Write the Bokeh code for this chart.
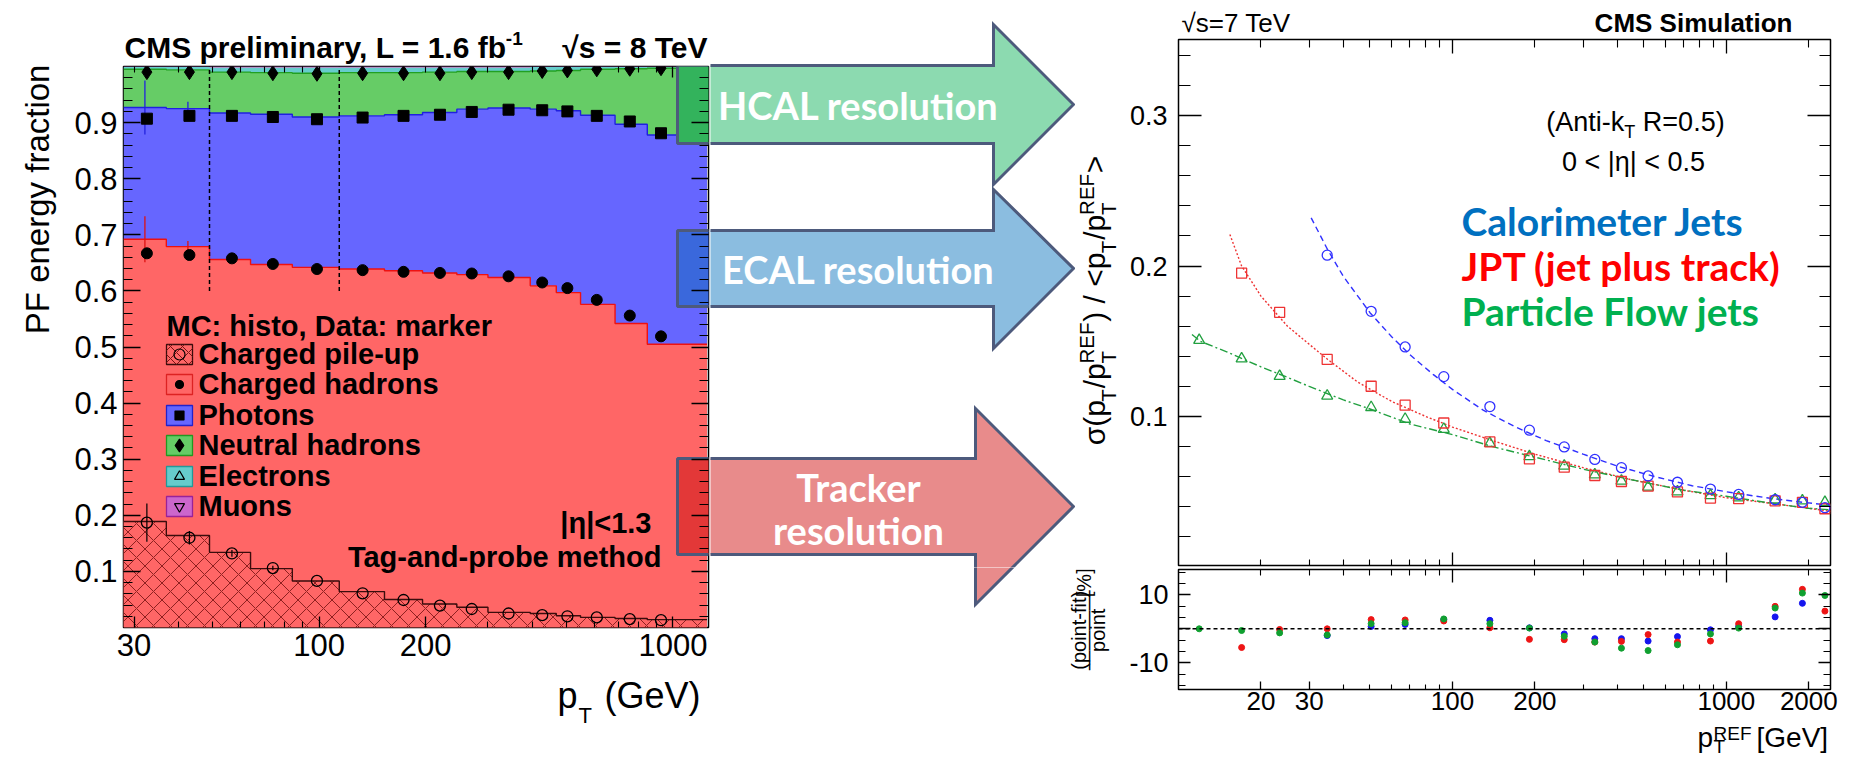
import math
from bokeh.plotting import figure
from bokeh.models import (Range1d, LinearAxis, LogAxis, FixedTicker, Label,
                          PrintfTickFormatter, LinearScale, Span)
from bokeh.layouts import row, column
from bokeh.embed import file_html
from bokeh.resources import INLINE

# ====================== DATA ======================
# Left panel: PF energy fraction vs jet pT (CMS preliminary, 8 TeV, |eta|<1.3)
pt_edges = [28, 37, 49, 64, 84, 114, 153, 196, 245, 300, 395, 468, 548, 686, 846, 1248]
# MC histograms, cumulative stack tops
mc_pileup = [0.189, 0.164, 0.134, 0.105, 0.083, 0.064, 0.050, 0.042, 0.036, 0.027, 0.025, 0.021, 0.018, 0.016, 0.014]
mc_charged = [0.692, 0.679, 0.656, 0.647, 0.642, 0.639, 0.636, 0.632, 0.629, 0.624, 0.609, 0.597, 0.576, 0.542, 0.505]
mc_photons = [0.927, 0.925, 0.917, 0.915, 0.910, 0.912, 0.914, 0.918, 0.924, 0.926, 0.924, 0.921, 0.913, 0.897, 0.878]
mc_neutral = [0.995, 0.994, 0.990, 0.989, 0.988, 0.989, 0.989, 0.990, 0.991, 0.991, 0.992, 0.993, 0.995, 0.996, 0.997]
mc_electrons = [0.999, 0.999, 0.998, 0.998, 0.998, 0.998, 0.998, 0.998, 0.998, 0.998, 0.999, 0.999, 0.999, 0.999, 0.999]
mc_muons = [1.000, 1.000, 1.000, 1.000, 1.000, 1.000, 1.000, 1.000, 1.000, 1.000, 1.000, 1.000, 1.000, 1.000, 1.000]
mc_charged_err = [0.041, 0.010, 0, 0, 0, 0, 0, 0, 0, 0, 0, 0, 0, 0, 0]
mc_photons_err = [0.048, 0.012, 0, 0, 0, 0, 0, 0, 0, 0, 0, 0, 0, 0, 0]
# Data markers
data_pt = [32.6, 43.0, 56.7, 74.0, 98.6, 132.7, 173.2, 219.5, 270, 343, 427, 503, 609, 755, 925]
data_pileup = [0.187, 0.160, 0.132, 0.106, 0.083, 0.061, 0.049, 0.039, 0.033, 0.025, 0.022, 0.020, 0.018, 0.015, 0.013]
data_pileup_err = [0.034, 0.012, 0.006, 0.004, 0, 0, 0, 0, 0, 0, 0, 0, 0, 0, 0]
data_charged = [0.667, 0.664, 0.658, 0.648, 0.639, 0.637, 0.634, 0.632, 0.631, 0.626, 0.615, 0.605, 0.584, 0.556, 0.519]
data_photons = [0.907, 0.912, 0.912, 0.910, 0.906, 0.909, 0.912, 0.914, 0.919, 0.923, 0.922, 0.920, 0.912, 0.902, 0.881]
data_neutral = [0.990, 0.990, 0.990, 0.988, 0.987, 0.988, 0.988, 0.988, 0.990, 0.990, 0.992, 0.993, 0.995, 0.996, 0.997]
threshold_pt = [49, 114]
threshold_lo = [0.6, 0.6]
threshold_hi = [1.0, 1.0]
left_xticks = [30, 100, 200, 1000]
left_xminor = [40, 50, 60, 70, 80, 90, 300, 400, 500, 600, 700, 800, 900]
left_yticks = [0.1, 0.2, 0.3, 0.4, 0.5, 0.6, 0.7, 0.8, 0.9]
legend_entries = ["Charged pile-up", "Charged hadrons", "Photons", "Neutral hadrons", "Electrons", "Muons"]

# Right panel: jet pT resolution vs pT^REF (CMS Simulation, 7 TeV)
ref_pt = [11.9, 17.0, 23.4, 34.9, 50.5, 67.2, 93, 137, 191, 256, 331, 414, 518, 663, 875, 1109, 1507, 1895, 2290]
pf_sigma = [0.1507, 0.1384, 0.1268, 0.1137, 0.1061, 0.0983, 0.0916, 0.0822, 0.0734, 0.0672, 0.0613,
            0.0572, 0.0532, 0.0501, 0.0475, 0.0461, 0.0447, 0.0440, 0.0430]
jpt_sigma = [0.1953, 0.1692, 0.1379, 0.1201, 0.1075, 0.0957, 0.0831, 0.0719, 0.0663, 0.0608,
             0.0568, 0.0537, 0.0499, 0.0458, 0.0454, 0.0440, 0.0430, 0.0387]
calo_sigma = [0.2072, 0.1699, 0.1462, 0.1265, 0.1066, 0.0909, 0.0798, 0.0715, 0.0660, 0.0605,
              0.0563, 0.0518, 0.0482, 0.0447, 0.0430, 0.0394]
calo_fit_pt = [30.5, 35, 40, 50, 60, 70, 85, 100, 130, 170, 220, 300, 400, 550, 750, 1000, 1400, 1900, 2400]
calo_fit = [0.232, 0.211, 0.193, 0.169, 0.153, 0.141, 0.128, 0.118, 0.104, 0.093, 0.084, 0.075, 0.067,
            0.060, 0.054, 0.050, 0.046, 0.043, 0.041]
jpt_fit_pt = [15.4, 17, 20, 25, 30, 35, 45, 60, 80, 100, 140, 200, 300, 450, 700, 1000, 1500, 2000, 2400]
jpt_fit = [0.221, 0.200, 0.180, 0.160, 0.148, 0.138, 0.123, 0.110, 0.100, 0.093, 0.084, 0.075, 0.066,
           0.058, 0.051, 0.046, 0.042, 0.039, 0.037]
pf_fit_pt = [11.2, 12, 15, 20, 25, 30, 40, 50, 70, 100, 140, 200, 300, 450, 700, 1000, 1500, 2000, 2400]
pf_fit = [0.1545, 0.150, 0.143, 0.133, 0.126, 0.120, 0.111, 0.105, 0.095, 0.088, 0.080, 0.073, 0.065,
          0.058, 0.051, 0.047, 0.042, 0.039, 0.038]
pf_resid = [0, -0.5, -1.2, -1.8, 1.5, 1.8, 2.9, 1.5, 0.2, -2.2, -3.9, -5.7, -6.4, -4.7, -1.5, 0.2, 6.1, 10.5, 9.8]
jpt_resid = [-5.5, -0.2, 0, 2.7, 2.6, 2.3, 0.3, -3.1, -3.2, -3.9, -3.7, -1.7, -3.9, -3.6, 1.5, 6.6, 11.6, 5.2]
calo_resid = [-2.0, 0.7, 1.3, 2.7, 2.5, 0.3, -1.5, -2.9, -2.9, -3.6, -2.3, -0.3, 0.7, 3.5, 7.5]
right_yticks = [0.1, 0.2, 0.3]
resid_yticks = [-10, 0, 10]
right_xticks = [20, 30, 100, 200, 1000, 2000]
right_xminor = [40, 50, 60, 70, 80, 90, 300, 400, 500, 600, 700, 800, 900]
decade_ticks = [100, 1000]
decade_minor = [20, 30, 40, 50, 60, 70, 80, 90, 200, 300, 400, 500, 600, 700, 800, 900, 2000]

# ====================== STYLE ======================
SANS = "Liberation Sans"
HUM = "Lato"
RED, BLUE, GREEN, CYAN, MAG = "#ff6666", "#6666ff", "#66cc66", "#66cccc", "#cc66cc"
EDGE = "#4d5a7c"
NB = "\u00a0"

REG = {' ': 278, NB: 278, '(': 333, ')': 333, ',': 278, '-': 333, '.': 278, '/': 278, ':': 278,
       '<': 584, '=': 584, '>': 584, '[': 278, ']': 278, '|': 260, '%': 889, '\u221a': 549,
       '\u03c3': 570, '\u03b7': 556, 'A': 667, 'C': 722, 'E': 667, 'F': 611, 'G': 778, 'R': 722,
       'S': 667, 'T': 611, 'V': 667, 'a': 556, 'e': 556, 'f': 278, 'i': 222, 'k': 500, 'n': 556,
       'o': 556, 'p': 556, 's': 500, 't': 278}
BOLD = {' ': 278, ',': 278, '-': 333, '.': 278, ':': 333, '=': 584, 'C': 722, 'D': 722, 'L': 611,
        'M': 833, 'S': 667, 'a': 556, 'b': 611, 'e': 556, 'f': 333, 'i': 278, 'l': 278, 'm': 889,
        'n': 611, 'p': 611, 'r': 389, 'y': 556}


def tw(s, size, bold=False):
    tab = BOLD if bold else REG
    return sum(tab.get(c, 556) for c in s) * size / 1000.0


def put(fig, x, y, text, size, bold=False, color="black", align="left",
        baseline="alphabetic", angle=0.0, font=SANS, px=False):
    """Place text in page-pixel coordinates; (x, y) is on the alphabetic baseline."""
    if baseline == "alphabetic":
        d = 0.35 * size
        if angle == 0.0:
            y = y - d
        else:
            x = x - d
        baseline = "middle"
    kw = dict(x_range_name="px", y_range_name="px") if px else {}
    fig.add_layout(Label(x=x, y=y, text=text, text_font=font, text_font_size=f"{size}px",
                         text_font_style="bold" if bold else "normal", text_color=color,
                         text_align=align, text_baseline=baseline, angle=angle, **kw))


def style_axis(ax, major_in, minor_in, ticker, label_px=None, standoff=0, fmt=None):
    ax.ticker = ticker
    if fmt is not None:
        ax.formatter = fmt
    ax.major_tick_in = major_in
    ax.major_tick_out = 0
    ax.minor_tick_in = minor_in
    ax.minor_tick_out = 0
    ax.major_tick_line_color = "black"
    ax.minor_tick_line_color = "black"
    ax.major_tick_line_width = 1.3
    ax.minor_tick_line_width = 1.1
    ax.axis_line_color = None
    if label_px:
        ax.major_label_text_font = SANS
        ax.major_label_text_font_size = f"{label_px}px"
        ax.major_label_text_color = "black"
    else:
        ax.major_label_text_font_size = "1px"
        ax.major_label_text_alpha = 0.0
    ax.major_label_standoff = standoff


def make_fig(width, height, xr, yr, bl, br, bt, bb):
    f = figure(width=width, height=height, x_axis_type="log", title=None,
               x_range=xr, y_range=yr, output_backend="svg", toolbar_location=None,
               min_border_left=bl, min_border_right=br, min_border_top=bt, min_border_bottom=bb)
    f.xgrid.visible = False
    f.ygrid.visible = False
    f.outline_line_color = "black"
    f.outline_line_width = 1.5
    f.background_fill_color = "white"
    f.border_fill_color = "white"
    return f


def strip(w, h, x0, y0):
    """Blank frame whose ranges are page pixels, used for texts outside the plot frames."""
    f = figure(width=w, height=h, x_range=Range1d(x0, x0 + w), y_range=Range1d(y0 + h, y0),
               x_axis_type=None, y_axis_type=None, output_backend="svg", toolbar_location=None,
               min_border=0, title=None)
    f.outline_line_color = None
    f.background_fill_color = "white"
    f.border_fill_color = "white"
    return f


def step_polygon(edges, bottom, top):
    xs, ys = [], []
    for i in range(len(top)):
        xs += [edges[i], edges[i + 1]]
        ys += [top[i], top[i]]
    for i in reversed(range(len(bottom))):
        xs += [edges[i + 1], edges[i]]
        ys += [bottom[i], bottom[i]]
    return xs, ys


# ====================== LEFT PANEL ======================
FL, FR, FT, FB = 123, 708, 66, 627
LX = 68            # width of y-label strip
LW = 710           # width of left column
L_TOP = 64         # height of title strip
L_BOT = 672        # bottom of the plot figure
p1 = make_fig(LW - LX, L_BOT - L_TOP, Range1d(28, 1260), Range1d(0, 1),
              FL - LX, LW - FR, FT - L_TOP, L_BOT - FB)
p1.extra_x_ranges = {"px": Range1d(FL, FR)}
p1.extra_y_ranges = {"px": Range1d(FB, FT)}
p1.extra_x_scales = {"px": LinearScale()}

style_axis(p1.xaxis[0], 11, 6, FixedTicker(ticks=left_xticks, minor_ticks=left_xminor), 31, 6,
           PrintfTickFormatter(format="%d"))
style_axis(p1.yaxis[0], 17, 9, FixedTicker(ticks=left_yticks, minor_ticks=[i / 50 for i in range(1, 50)]),
           31, 6, PrintfTickFormatter(format="%.1f"))
ax_top = LogAxis()
style_axis(ax_top, 11, 6, FixedTicker(ticks=decade_ticks, minor_ticks=left_xminor + [30, 200]))
p1.add_layout(ax_top, "above")
ax_right = LinearAxis()
style_axis(ax_right, 17, 9, FixedTicker(ticks=left_yticks, minor_ticks=[i / 50 for i in range(1, 50)]))
p1.add_layout(ax_right, "right")

zeros = [0.0] * len(mc_charged)
layers = [(zeros, mc_charged, RED), (mc_charged, mc_photons, BLUE), (mc_photons, mc_neutral, GREEN),
          (mc_neutral, mc_electrons, CYAN), (mc_electrons, mc_muons, MAG)]
for lo, hi, col in layers:
    xs, ys = step_polygon(pt_edges, lo, hi)
    p1.patch(xs, ys, fill_color=col, line_color=None)
xs, ys = step_polygon(pt_edges, zeros, mc_pileup)
p1.patch(xs, ys, fill_color=RED, line_color=None, hatch_pattern="diagonal_cross",
         hatch_color="#7a1414", hatch_alpha=0.85, hatch_scale=17, hatch_weight=1.0)

for vals, col in [(mc_pileup, "#3a0c0c"), (mc_charged, "#ee1111"), (mc_photons, "#2020e0"),
                  (mc_neutral, "#22a022")]:
    p1.step(x=pt_edges, y=vals + [vals[-1]], mode="after", line_color=col, line_width=1.4)

mid_pt = [math.sqrt(pt_edges[i] * pt_edges[i + 1]) for i in range(len(mc_charged))]
p1.segment(x0=mid_pt, x1=mid_pt, y0=[v - e for v, e in zip(mc_charged, mc_charged_err)],
           y1=[v + e for v, e in zip(mc_charged, mc_charged_err)], line_color="#dd1111", line_width=1.3)
p1.segment(x0=mid_pt, x1=mid_pt, y0=[v - e for v, e in zip(mc_photons, mc_photons_err)],
           y1=[v + e for v, e in zip(mc_photons, mc_photons_err)], line_color="#2222dd", line_width=1.3)
p1.segment(x0=data_pt, x1=data_pt, y0=[v - e for v, e in zip(data_pileup, data_pileup_err)],
           y1=[v + e for v, e in zip(data_pileup, data_pileup_err)], line_color="black", line_width=1.2)

p1.segment(x0=threshold_pt, x1=threshold_pt, y0=threshold_lo, y1=threshold_hi,
           line_color="black", line_width=1.5, line_dash="4 3")

p1.scatter(data_pt, data_pileup, marker="circle", size=11, fill_color=None, line_color="black", line_width=1.3)
p1.scatter(data_pt, data_charged, marker="circle", size=11, fill_color="black", line_color="black")
p1.scatter(data_pt, data_photons, marker="square", size=11, fill_color="black", line_color="black")
p1.scatter(data_pt, data_neutral, marker="diamond", size=15, fill_color="black", line_color="black")

# legend (page-pixel coordinates)
leg_base = [364, 394, 425, 455, 486, 516]
box_fill = [RED, RED, BLUE, GREEN, CYAN, MAG]
box_line = ["#3a0c0c", "#dd2222", "#2222cc", "#229922", "#229999", "#992299"]
box_y = [b - 10 for b in leg_base]
p1.rect(x=[179] * 6, y=box_y, width=26, height=20, fill_color=box_fill, line_color=box_line,
        line_width=1.3, x_range_name="px", y_range_name="px")
p1.rect(x=[179], y=box_y[:1], width=26, height=20, fill_color=None, line_color=None,
        hatch_pattern="diagonal_cross", hatch_color="#7a1414", hatch_scale=12,
        x_range_name="px", y_range_name="px")
leg_markers = [("circle", None, 11), ("circle", "black", 8), ("square", "black", 9),
               ("diamond", "black", 13), ("triangle", None, 10), ("inverted_triangle", None, 10)]
for (mk, fc, sz), yy in zip(leg_markers, box_y):
    p1.scatter([179], [yy], marker=mk, size=sz, fill_color=fc, line_color="black", line_width=1.2,
               x_range_name="px", y_range_name="px")
put(p1, 166, 336, "MC: histo, Data: marker", 29, bold=True, px=True)
for name, b in zip(legend_entries, leg_base):
    put(p1, 198, b, name, 29, bold=True, px=True)
put(p1, 651, 533, "|\u03b7|<1.3", 29, bold=True, align="right", px=True)
put(p1, 661, 567, "Tag-and-probe method", 29, bold=True, align="right", px=True)

# ====================== ARROWS ======================
ARROW_X0, ARROW_TIP = 677, 1073
arrows = [
    (65, 143, 24, 184, 993, 104, "#8cdab0", "#33b35c"),
    (230, 306, 189, 348, 993, 268, "#8bbde0", "#3a68dc"),
    (458, 554, 408, 604, 975, 506, "#e88b8b", "#e33838"),
]
for bt, bb, ht, hb, hx, ty, light, dark in arrows:
    p1.quad(left=[ARROW_X0], right=[FR + 20], top=[bt], bottom=[bb], fill_color=dark,
            line_color=EDGE, line_width=3, x_range_name="px", y_range_name="px")

# left-side text strips
L_title = strip(LW, L_TOP, 0, 0)
t_title = "CMS preliminary, L = 1.6 fb"
put(L_title, 124, 57, t_title, 30, bold=True)
put(L_title, 124 + tw(t_title, 30, True) - 3, 45, "-1", 19, bold=True)
put(L_title, 707, 57, "\u221as = 8 TeV", 30, bold=True, align="right")
L_ylab = strip(LX, L_BOT - L_TOP, 0, L_TOP)
put(L_ylab, 49, 208, "PF energy fraction", 33, angle=math.pi / 2, align="center")
L_xlab = strip(LW, 757 - L_BOT, 0, L_BOT)
put(L_xlab, 557, 708, "p", 36)
put(L_xlab, 578, 723, "T", 22)
put(L_xlab, 604, 708, "(GeV)", 36)
left_col = column(L_title, row(L_ylab, p1), L_xlab)


def mid_fig(w, h, x0, y0):
    f = strip(w, h, x0, y0)
    for bt, bb, ht, hb, hx, ty, light, dark in arrows:
        f.patch([ARROW_X0, hx, hx, ARROW_TIP, hx, hx, ARROW_X0], [bt, bt, ht, ty, hb, bb, bb],
                fill_color=light, line_color=EDGE, line_width=3, line_join="miter")
    return f


R_X = 1075     # left edge of upper-right column
R3_X = 1055    # left edge of lower-right column
R_SPLIT = 567  # page y where upper and lower right columns meet
mid_top = mid_fig(R_X - LW, R_SPLIT, LW, 0)
mid_bot = mid_fig(R3_X - LW, 757 - R_SPLIT, LW, R_SPLIT)
for txt, yy in [("HCAL resolution", 104), ("ECAL resolution", 268), ("Tracker", 486), ("resolution", 529)]:
    put(mid_top, 858, yy, txt, 38, bold=True, color="white", baseline="middle", align="center", font=HUM)

# ====================== RIGHT PANEL (top) ======================
RL, RR, RT = 1178, 1830, 39
RB, RB2T, RB2 = 565, 569, 689
YL = 1124      # right edge of y-label strips
R_TOP = 37
p2 = make_fig(1855 - YL, R_SPLIT - R_TOP, Range1d(10, 2400), Range1d(0.001, 0.3505),
              RL - YL, 1855 - RR, RT - R_TOP, R_SPLIT - RB)
p2.extra_x_ranges = {"px": Range1d(RL, RR)}
p2.extra_y_ranges = {"px": Range1d(RB, RT)}
p2.extra_x_scales = {"px": LinearScale()}
ymin = [i / 50 for i in range(1, 18)]
style_axis(p2.yaxis[0], 23, 12, FixedTicker(ticks=right_yticks, minor_ticks=ymin), 27, 11,
           PrintfTickFormatter(format="%.1f"))
style_axis(p2.xaxis[0], 13, 6, FixedTicker(ticks=decade_ticks, minor_ticks=decade_minor))
a = LogAxis()
style_axis(a, 14, 8, FixedTicker(ticks=decade_ticks, minor_ticks=decade_minor))
p2.add_layout(a, "above")
a = LinearAxis()
style_axis(a, 23, 11, FixedTicker(ticks=right_yticks, minor_ticks=ymin))
p2.add_layout(a, "right")

CB, CR, CG = "#3030ff", "#ee3333", "#22a040"
p2.line(calo_fit_pt, calo_fit, line_color=CB, line_width=1.4, line_dash="6 4")
p2.line(jpt_fit_pt, jpt_fit, line_color=CR, line_width=1.4, line_dash="2 2")
p2.line(pf_fit_pt, pf_fit, line_color=CG, line_width=1.4, line_dash="8 3 2 3")
p2.scatter(ref_pt, pf_sigma, marker="triangle", size=11, fill_color=None, line_color=CG, line_width=1.3)
p2.scatter(ref_pt[1:], jpt_sigma, marker="square", size=10, fill_color=None, line_color=CR, line_width=1.3)
p2.scatter(ref_pt[3:], calo_sigma, marker="circle", size=10, fill_color=None, line_color=CB, line_width=1.3)

s1, s2 = "(Anti-k", NB + "R=0.5)"
wtot = tw(s1, 27) + tw("T", 18) + tw(s2, 27)
x0 = 1635 - wtot / 2
put(p2, x0, 131, s1, 27, px=True)
put(p2, x0 + tw(s1, 27), 138, "T", 18, px=True)
put(p2, x0 + tw(s1, 27) + tw("T", 18), 131, s2, 27, px=True)
put(p2, 1633, 171, "0 < |\u03b7| < 0.5", 27, align="center", px=True)
put(p2, 1461, 234, "Calorimeter Jets", 39, bold=True, color="#0070c0", font=HUM, px=True)
put(p2, 1461, 279, "JPT (jet plus track)", 39, bold=True, color="#ff0000", font=HUM, px=True)
put(p2, 1461, 324, "Particle Flow jets", 39, bold=True, color="#00b050", font=HUM, px=True)

R_title = strip(1855 - R_X, R_TOP, R_X, 0)
put(R_title, 1181, 31.5, "\u221as=7 TeV", 26)
put(R_title, 1792, 31.5, "CMS Simulation", 26, bold=True, align="right")

# rotated y label: sigma(pT/pT^REF) / <pT/pT^REF>
R_ylab = strip(YL - R_X, R_SPLIT - R_TOP, R_X, R_TOP)
MAIN, SMALL = 30, 20.5
items = [("m", "\u03c3(p"), ("s", "T", ""), ("m", "/p"), ("s", "T", "REF"), ("m", ") / <p"),
         ("s", "T", ""), ("m", "/p"), ("s", "T", "REF"), ("m", ">")]
total = 0.0
for it in items:
    total += tw(it[1], MAIN) if it[0] == "m" else max(tw(it[1], SMALL), tw(it[2], SMALL)) + 1
yy = 300 + total / 2
XB = 1104
for it in items:
    if it[0] == "m":
        put(R_ylab, XB, yy, it[1], MAIN, angle=math.pi / 2)
        yy -= tw(it[1], MAIN)
    else:
        put(R_ylab, XB + 11, yy, it[1], SMALL, angle=math.pi / 2)
        if it[2]:
            put(R_ylab, XB - 11, yy, it[2], SMALL, angle=math.pi / 2)
        yy -= max(tw(it[1], SMALL), tw(it[2], SMALL)) + 1
right_top = column(R_title, row(R_ylab, p2))

# ====================== RIGHT PANEL (residuals) ======================
R3_BOT = 721
p3 = make_fig(1855 - YL, R3_BOT - R_SPLIT, Range1d(10, 2400), Range1d(-17.85, 17.44),
              RL - YL, 1855 - RR, RB2T - R_SPLIT, R3_BOT - RB2)
p3.extra_x_ranges = {"px": Range1d(RL, RR)}
p3.extra_y_ranges = {"px": Range1d(RB2, RB2T)}
p3.extra_x_scales = {"px": LinearScale()}
rmin = [-16.67, -13.33, -6.67, -3.33, 3.33, 6.67, 13.33, 16.67]
style_axis(p3.yaxis[0], 12, 7, FixedTicker(ticks=resid_yticks, minor_ticks=rmin), 27, 10,
           PrintfTickFormatter(format="%d"))
p3.yaxis[0].major_label_overrides = {0: ""}
style_axis(p3.xaxis[0], 8, 5, FixedTicker(ticks=right_xticks, minor_ticks=right_xminor), 26, 2,
           PrintfTickFormatter(format="%d"))
a = LogAxis()
style_axis(a, 13, 6, FixedTicker(ticks=decade_ticks, minor_ticks=decade_minor))
p3.add_layout(a, "above")
a = LinearAxis()
style_axis(a, 12, 7, FixedTicker(ticks=resid_yticks, minor_ticks=rmin))
p3.add_layout(a, "right")
p3.add_layout(Span(location=0, dimension="width", line_color="black", line_width=1.4, line_dash="4 3"))
p3.scatter(ref_pt[3:18], calo_resid, marker="circle", size=6, color="#1515ee")
p3.scatter(ref_pt[1:], jpt_resid, marker="circle", size=6, color="#ee1515")
p3.scatter(ref_pt, pf_resid, marker="circle", size=6, color="#10a030")

R3_ylab = strip(YL - R3_X, R3_BOT - R_SPLIT, R3_X, R_SPLIT)
FS = 20
cy = 645
put(R3_ylab, 1085, cy, "(point-fit)", FS, angle=math.pi / 2, align="center")
put(R3_ylab, 1104, cy, "point", FS, angle=math.pi / 2, align="center")
put(R3_ylab, 1094, cy, "\u2014\u2014\u2014\u2014", FS, angle=math.pi / 2, align="center")
put(R3_ylab, 1090, cy - tw("(point-fit)", FS) / 2 - 3, "[%]", FS, angle=math.pi / 2)
R3_xlab = strip(1855 - R3_X, 757 - R3_BOT, R3_X, R3_BOT)
put(R3_xlab, 1697, 747, "p", 28)
put(R3_xlab, 1713, 740, "REF", 19)
put(R3_xlab, 1713, 752.5, "T", 19)
put(R3_xlab, 1756, 747, "[GeV]", 28)
right_bot = column(row(R3_ylab, p3), R3_xlab)

layout = row(left_col, column(row(mid_top, right_top), row(mid_bot, right_bot)))
open("out.html", "w").write(file_html(layout, INLINE))
